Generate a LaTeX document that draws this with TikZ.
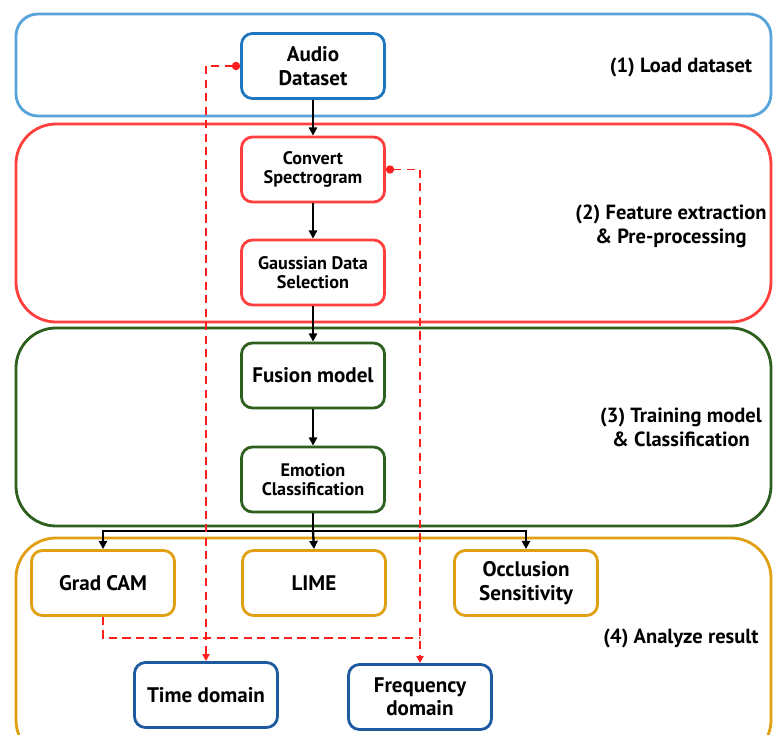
\documentclass[tikz,border=0pt]{standalone}
\usepackage{fontspec}
\setmainfont{PT Sans}
\usetikzlibrary{arrows.meta}
\definecolor{stageblue}{RGB}{88,164,218}
\definecolor{nodeblue}{RGB}{30,118,190}
\definecolor{darkblue}{RGB}{30,90,160}
\definecolor{stagered}{RGB}{255,62,62}
\definecolor{stagegreen}{RGB}{45,95,30}
\definecolor{stagegold}{RGB}{225,160,20}
\definecolor{linkred}{RGB}{255,30,30}
\newlength{\pxu}
\setlength{\pxu}{0.03cm}
\tikzset{
  stagebox/.style={line width=2.4pt, rounded corners=40*\pxu},
  stepbox/.style={draw, line width=2.4pt, rounded corners=11*\pxu, fill=white,
    minimum width=143*\pxu, minimum height=65*\pxu, align=center,
    inner sep=0pt, font=\bfseries\fontsize{18}{20}\selectfont},
  smallstep/.style={stepbox, font=\bfseries\fontsize{15.5}{16.5}\selectfont},
  stagelabel/.style={align=center, font=\bfseries\fontsize{17.5}{20.5}\selectfont},
  flow/.style={line width=2pt, -{Triangle[length=7pt,width=7pt]}},
  flowline/.style={line width=2pt},
  link/.style={draw=linkred, line width=1.5pt, dash pattern=on 7pt off 4.5pt},
  linkdot/.style={{Circle[length=7pt,fill=linkred]}-{Triangle[length=6pt,width=6pt,fill=linkred]}}
}
\begin{document}
\begin{tikzpicture}[x=0.03cm, y=-0.03cm]
\useasboundingbox (0,0) rectangle (773,735);
\fill[white] (0,0) rectangle (773,735);

% stage frames
\draw[stagebox, draw=stageblue, rounded corners=22*\pxu] (16,14) rectangle (771,116);
\draw[stagebox, draw=stagered] (16,124) rectangle (771,322);
\draw[stagebox, draw=stagegreen] (16,328) rectangle (771,526);
\draw[stagebox, draw=stagegold] (16,538) rectangle (771,760);

% stage labels
\node[stagelabel] (lab1) at (681,67) {(1) Load dataset};
\node[stagelabel] (lab2) at (671,226) {(2) Feature extraction\\\& Pre-processing};
\node[stagelabel] (lab3) at (681,427) {(3) Training model\\\& Classification};
\node[stagelabel] (lab4) at (681,638) {(4) Analyze result};

% pipeline steps
\node[stepbox, draw=nodeblue] (audio) at (313,66) {Audio\\Dataset};
\node[smallstep, draw=stagered] (conv) at (313,169.5) {Convert\\Spectrogram};
\node[smallstep, draw=stagered] (gauss) at (313,272.5) {Gaussian Data\\Selection};
\node[stepbox, draw=stagegreen] (fusion) at (313,375.5) {Fusion model};
\node[smallstep, draw=stagegreen] (emo) at (313,479.5) {Emotion\\Classification};

% explanation methods
\node[stepbox, draw=stagegold] (grad) at (103,583) {Grad CAM};
\node[stepbox, draw=stagegold] (lime) at (314,583) {LIME};
\node[stepbox, draw=stagegold] (occl) at (526,583) {Occlusion\\Sensitivity};

% analysis domains
\node[stepbox, draw=darkblue] (time) at (206,695) {Time domain};
\node[stepbox, draw=darkblue] (freq) at (420,697) {Frequency\\domain};

% main flow
\draw[flow] (audio) -- (conv);
\draw[flow] (conv) -- (gauss);
\draw[flow] (gauss) -- (fusion);
\draw[flow] (fusion) -- (emo);
\coordinate (split) at (emo.south |- 0,531);
\draw[flowline] (emo.south) -- (split);
\draw[flow] (split) -| (grad.north);
\draw[flow] (split) -- (lime.north);
\draw[flow] (split) -| (occl.north);

% domain links
\coordinate (join) at (freq.north |- 0,638);
\draw[link, linkdot] (audio.west) -| (time.north);
\draw[link, linkdot] (conv.east) -| (freq.north);
\draw[link] (grad.south) |- (join);
\end{tikzpicture}
\end{document}
